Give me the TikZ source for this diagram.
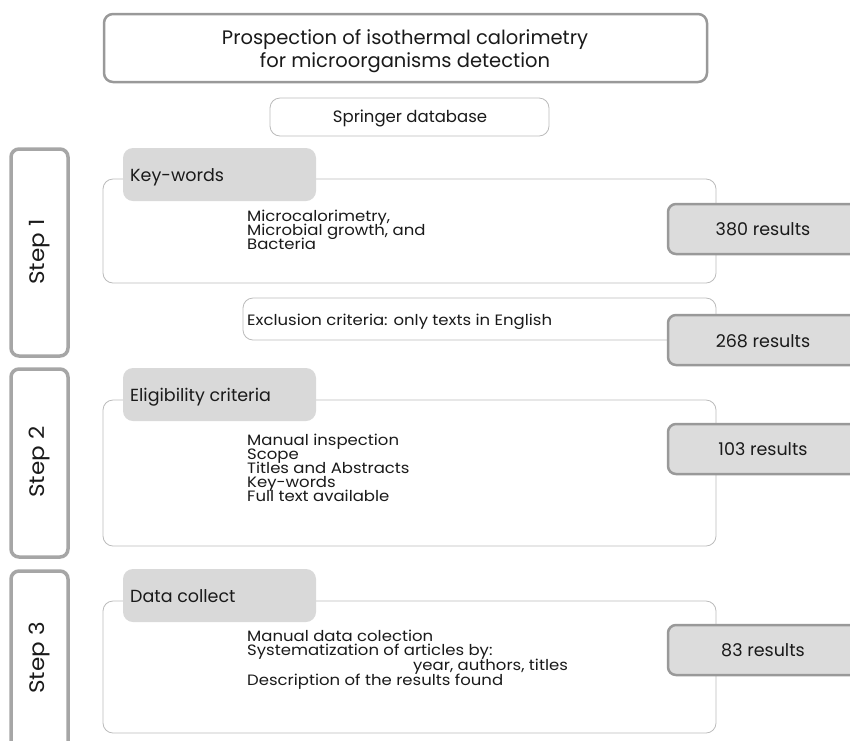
\documentclass[tikz,border=0pt]{standalone}
\usepackage{fontspec}
\setmainfont{Poppins}
\newfontfamily\bodyfont[FakeStretch=1.1]{Poppins}
\newfontfamily\stepfont[FakeStretch=1.1]{Poppins}
\definecolor{tabgray}{HTML}{D9D9D9}
\definecolor{resgray}{HTML}{DCDCDC}
\definecolor{resedge}{HTML}{999999}
\definecolor{sideedge}{HTML}{A6A6A6}
\definecolor{thinedge}{HTML}{BBBBBB}
\definecolor{ink}{HTML}{1A1A1A}
\begin{document}
\begin{tikzpicture}[x=1pt,y=-1pt,
  titlebox/.style={draw=resedge,line width=2.5pt,rounded corners=9pt,fill=white},
  thinbox/.style={draw=thinedge,line width=0.8pt,rounded corners=10pt,fill=white},
  sidebox/.style={draw=sideedge,line width=3.5pt,rounded corners=8pt,fill=white},
  tabbox/.style={fill=tabgray,rounded corners=10pt},
  resbox/.style={draw=resedge,line width=2.5pt,rounded corners=8pt,fill=resgray},
  body/.style={font=\bodyfont\fontsize{15}{14}\selectfont,inner sep=0pt,text=ink,anchor=base west},
  tabtxt/.style={font=\fontsize{17.5}{18}\selectfont,inner sep=0pt,text=ink,anchor=base west},
  restxt/.style={font=\fontsize{17.5}{18}\selectfont,inner sep=0pt,text=ink,anchor=base},
  steptxt/.style={font=\stepfont\fontsize{21}{22}\selectfont,inner sep=0pt,text=ink,rotate=90},
  ttl/.style={font=\fontsize{19.5}{23}\selectfont,inner sep=0pt,text=ink,anchor=base},
]
\useasboundingbox (0,0) rectangle (850,740);
\clip (0,0) rectangle (850,740);

% title
\draw[titlebox] (104,14) rectangle (707,82);
\node[ttl] (title1) at (405,44) {Prospection of isothermal calorimetry};
\node[ttl] (title2) at (405,67) {for microorganisms detection};
\draw[thinbox] (270,98) rectangle (549,136);
\node[ttl,font=\fontsize{16.5}{20}\selectfont] (springer) at (410,122) {Springer database};

% Step 1
\draw[sidebox] (11,149) rectangle (68,356);
\node[steptxt] (s1) at (39.5,252) {Step 1};
\draw[thinbox] (103,179) rectangle (716,283);
\fill[tabbox] (123,148) rectangle (316,201);
\node[tabtxt] (kw) at (130,181) {Key-words};
\node[body] (kw1) at (247,221) {Microcalorimetry,};
\node[body] (kw2) at (247,235) {Microbial growth, and};
\node[body] (kw3) at (247,249) {Bacteria};
\draw[resbox] (668,204) rectangle (870,254);
\node[restxt] (r1) at (763,235) {380 results};

\draw[thinbox] (243,298) rectangle (716,340);
\node[body] (excl) at (247,325) {Exclusion criteria: only texts in English};
\draw[resbox] (668,315) rectangle (870,365);
\node[restxt] (r2) at (763,347) {268 results};

% Step 2
\draw[sidebox] (11,369) rectangle (68,557);
\node[steptxt] (s2) at (39.5,462) {Step 2};
\draw[thinbox] (103,400) rectangle (716,546);
\fill[tabbox] (123,368) rectangle (316,421);
\node[tabtxt] (el) at (130,401) {Eligibility criteria};
\node[body] (el1) at (247,445) {Manual inspection};
\node[body] (el2) at (247,459) {Scope};
\node[body] (el3) at (247,473) {Titles and Abstracts};
\node[body] (el4) at (247,487) {Key-words};
\node[body] (el5) at (247,501) {Full text available};
\draw[resbox] (668,424) rectangle (870,474);
\node[restxt] (r3) at (763,455) {103 results};

% Step 3
\draw[sidebox] (11,571) rectangle (68,770);
\node[steptxt] (s3) at (39.5,658) {Step 3};
\draw[thinbox] (103,601) rectangle (716,733);
\fill[tabbox] (123,569) rectangle (316,622);
\node[tabtxt] (dc) at (130,602) {Data collect};
\node[body] (dc1) at (247,641) {Manual data colection};
\node[body] (dc2) at (247,655.5) {Systematization of articles by:};
\node[body] (dc3) at (413,670) {year, authors, titles};
\node[body] (dc4) at (247,685) {Description of the results found};
\draw[resbox] (668,625) rectangle (870,675);
\node[restxt] (r4) at (763,656) {83 results};
\end{tikzpicture}
\end{document}
